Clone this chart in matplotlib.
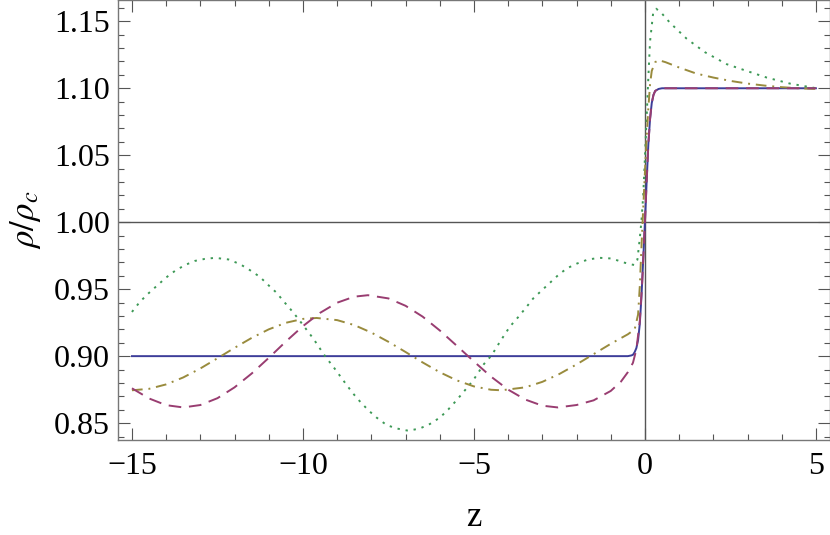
import matplotlib
matplotlib.use("Agg")
import matplotlib.pyplot as plt
from matplotlib.ticker import MultipleLocator, FixedLocator

plt.rcParams['font.family'] = ['Liberation Serif', 'DejaVu Serif']
plt.rcParams['mathtext.fontset'] = 'stix'
plt.rcParams['axes.unicode_minus'] = True

# ---- data ----
z_blue = [-15, -0.5, -0.4, -0.35, -0.3, -0.25, -0.2, -0.15, -0.1, -0.05, 0.0,
          0.05, 0.1, 0.15, 0.2, 0.25, 0.3, 0.4, 0.5, 5]
rho_blue = [0.9, 0.9, 0.9005, 0.901, 0.903, 0.906, 0.912, 0.924, 0.945, 0.972, 1.0,
            1.03, 1.058, 1.077, 1.089, 1.095, 1.098, 1.0995, 1.1, 1.1]

z_mag = [-15, -14.5, -14, -13.5, -13, -12.5, -12, -11.5, -11, -10.5, -10, -9.5,
         -9, -8.5, -8.1, -7.5, -7, -6.5, -6, -5.5, -5, -4.5, -4, -3.5, -3,
         -2.55, -2, -1.5, -1, -0.7, -0.5, -0.35, -0.25, -0.15, -0.08, -0.03,
         0.0, 0.05, 0.1, 0.15, 0.2, 0.25, 0.3, 0.4, 0.5, 5]
rho_mag = [0.876, 0.8684, 0.8634, 0.8617, 0.8635, 0.8686, 0.8767, 0.887, 0.8987,
           0.9109, 0.9224, 0.9323, 0.9399, 0.9444, 0.9455, 0.9431, 0.9376,
           0.9295, 0.9192, 0.9077, 0.896, 0.8847, 0.875, 0.8676, 0.863,
           0.8617, 0.8635, 0.867, 0.874, 0.881, 0.888, 0.895, 0.905, 0.926,
           0.955, 0.983, 1.0, 1.03, 1.058, 1.077, 1.089, 1.095, 1.098, 1.0995,
           1.1, 1.1]

z_olv = [-15, -14.5, -14, -13.5, -13, -12.5, -12, -11.5, -11, -10.5, -10, -9.6,
         -9, -8.5, -8, -7.5, -7, -6.5, -6, -5.5, -5, -4.5, -4.2, -3.5, -3,
         -2.5, -2, -1.5, -1, -0.5, -0.3, -0.2, -0.15, -0.1, -0.05, 0.0, 0.05,
         0.1, 0.15, 0.2, 0.3, 0.4, 0.6, 1.0, 1.5, 2.0, 2.5, 3.0, 3.5, 4.0,
         4.5, 5.0]
rho_olv = [0.8745, 0.8756, 0.8789, 0.8841, 0.8908, 0.8984, 0.9062, 0.9136, 0.920,
           0.9249, 0.9278, 0.9285, 0.9269, 0.9232, 0.9176, 0.9107, 0.9031,
           0.8953, 0.888, 0.8819, 0.8774, 0.8749, 0.8745, 0.8767, 0.8808,
           0.8867, 0.8938, 0.9015, 0.9092, 0.9163, 0.920, 0.931, 0.952, 0.982,
           1.01, 1.037, 1.063, 1.085, 1.103, 1.113, 1.1195, 1.121, 1.1195,
           1.1155, 1.111, 1.108, 1.1055, 1.1035, 1.102, 1.1008, 1.1, 1.0995]

z_grn = [-15, -14.77, -14.52, -14.25, -14.0, -13.74, -13.45, -13.16, -12.87,
         -12.57, -12.18, -11.84, -11.55, -11.26, -11.01, -10.77, -10.55, -10.33,
         -10.14, -9.7, -9.34, -9.11, -8.72, -8.53, -8.3, -8.07, -7.85, -7.55,
         -7.26, -6.92, -6.58, -6.29, -5.99, -5.75, -5.51, -5.26, -5.02, -4.71,
         -4.48, -4.24, -3.95, -3.7, -3.46, -3.27, -3.02, -2.78, -2.54, -2.29,
         -2.0, -1.66, -1.32, -0.97, -0.63, -0.4, -0.3, -0.22, -0.15, -0.1,
         -0.05, 0.0, 0.05, 0.1, 0.15, 0.24, 0.33, 0.49, 0.73, 1.22, 1.75, 2.39,
         2.97, 3.56, 4.24, 4.97]
rho_grn = [0.933, 0.9405, 0.9468, 0.953, 0.9587, 0.9637, 0.968, 0.9711, 0.9726,
           0.9734, 0.9722, 0.9687, 0.9642, 0.9592, 0.953, 0.9473, 0.9405, 0.934,
           0.928, 0.9132, 0.8995, 0.892, 0.8784, 0.872, 0.8652, 0.8592, 0.8542,
           0.8485, 0.846, 0.8443, 0.846, 0.8493, 0.8542, 0.8602, 0.867, 0.8746,
           0.882, 0.894, 0.9007, 0.9107, 0.922, 0.9293, 0.9368, 0.943, 0.949,
           0.9547, 0.9604, 0.9654, 0.969, 0.9722, 0.9734, 0.9729, 0.970, 0.9685,
           0.968, 0.972, 0.988, 1.0015, 1.02, 1.048, 1.078, 1.108, 1.135, 1.156,
           1.1594, 1.156, 1.149, 1.137, 1.127, 1.118, 1.113, 1.108, 1.1035,
           1.1002]

x_major = [-15, -10, -5, 0, 5]
y_major = [0.85, 0.90, 0.95, 1.00, 1.05, 1.10, 1.15]
y_labels = ["0.85", "0.90", "0.95", "1.00", "1.05", "1.10", "1.15"]

c_blue = '#3d3d99'
c_mag = '#993d71'
c_olv = '#998b3d'
c_grn = '#3d9956'

fig = plt.figure(figsize=(8.3, 5.35), dpi=100)
ax = fig.add_axes([0.1425, 0.1776, 0.857, 0.8219])

ax.axhline(1.0, color='#555555', lw=1.0, zorder=1)
ax.axvline(0.0, color='#555555', lw=1.0, zorder=1)

ax.plot(z_grn, rho_grn, color=c_grn, lw=1.4, linestyle=(0, (1.2, 3.0)), zorder=3)
ax.plot(z_olv, rho_olv, color=c_olv, lw=1.4, linestyle=(0, (5.5, 3, 1, 3)), zorder=3)
ax.plot(z_mag, rho_mag, color=c_mag, lw=1.4, linestyle=(0, (6.5, 4)), zorder=4)
ax.plot(z_blue, rho_blue, color=c_blue, lw=1.4, zorder=2)

ax.set_xlim(-15.4, 5.4)
ax.set_ylim(0.8374, 1.1657)

ax.xaxis.set_major_locator(FixedLocator(x_major))
ax.xaxis.set_minor_locator(MultipleLocator(1))
ax.yaxis.set_major_locator(FixedLocator(y_major))
ax.set_yticklabels(y_labels)
ax.yaxis.set_minor_locator(MultipleLocator(0.01))

for s in ax.spines.values():
    s.set_color('#777777')
    s.set_linewidth(1.0)

ax.tick_params(which='both', direction='in', top=True, right=True,
               color='#555555', width=0.8, labelsize=23, pad=6)
ax.tick_params(axis='x', which='both', pad=9)
ax.tick_params(which='major', length=8.5)
ax.tick_params(which='minor', length=4.5)

ax.set_xlabel('z', fontsize=25, labelpad=14)
ax.set_ylabel(r'$\rho/\rho_c$', fontsize=25, labelpad=8)

fig.savefig('out.png', dpi=100)
